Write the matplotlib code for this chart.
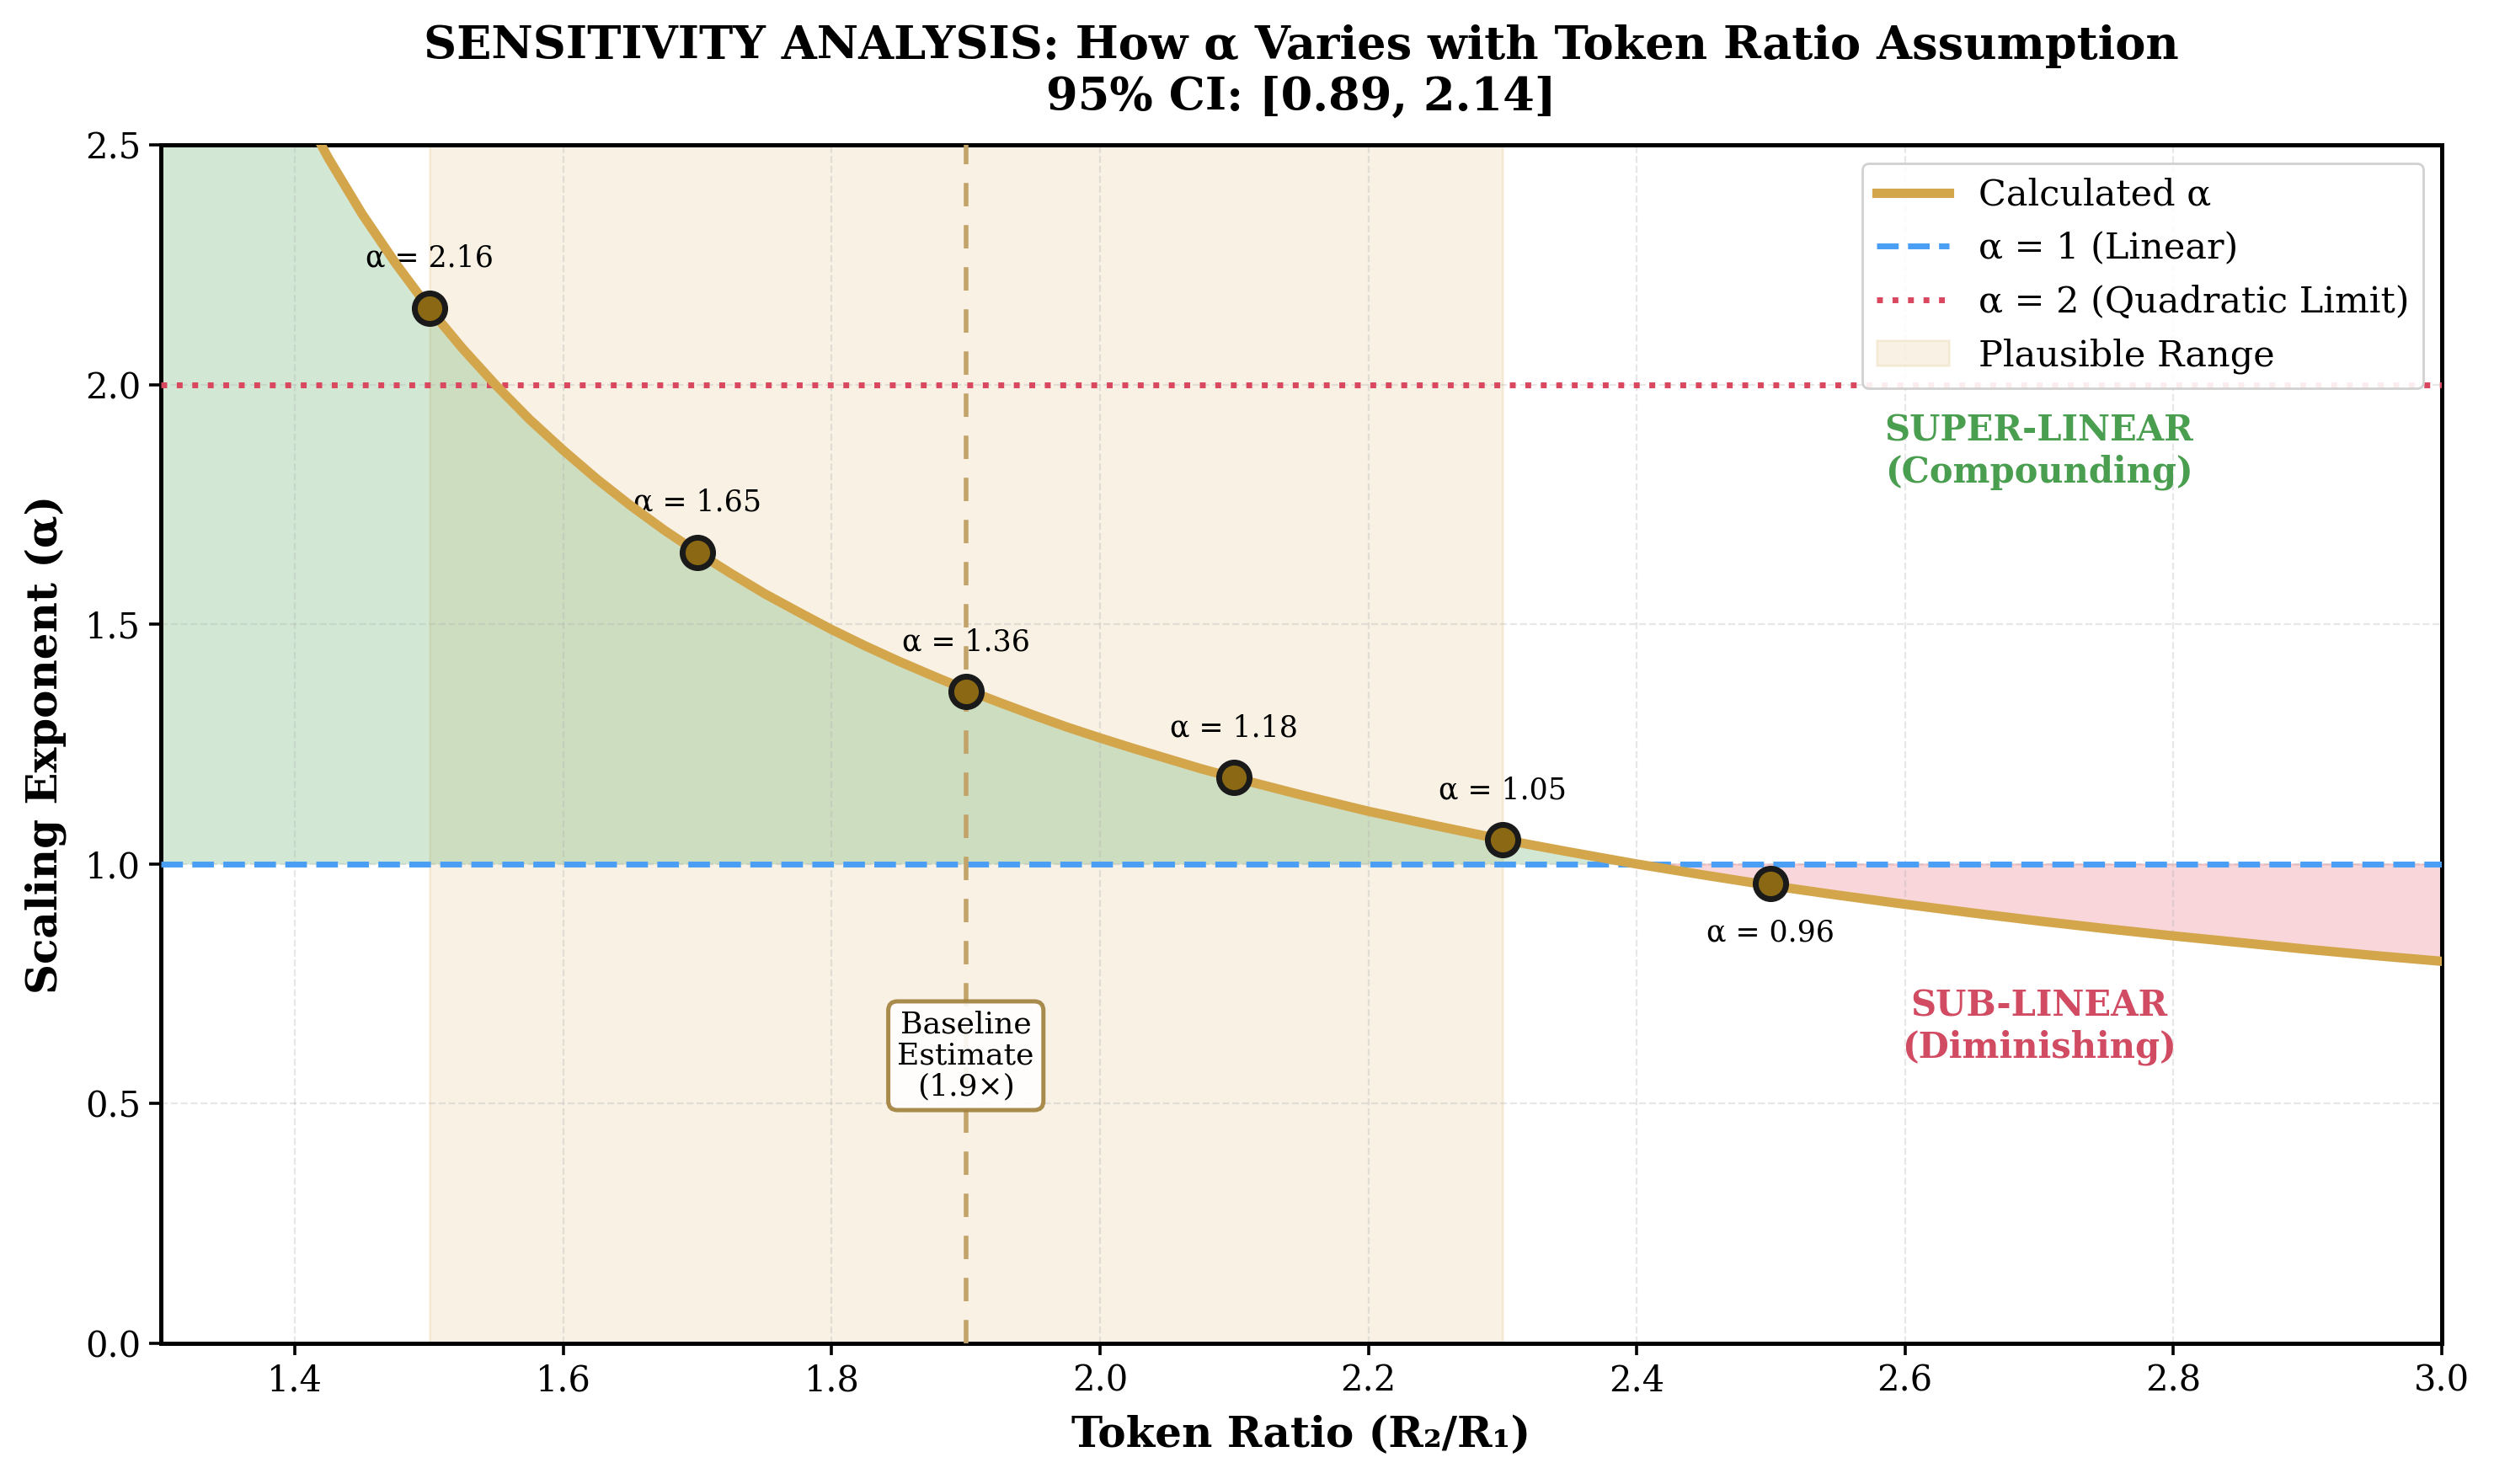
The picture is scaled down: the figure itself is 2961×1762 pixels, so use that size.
import numpy as np
import matplotlib
matplotlib.use("Agg")
import matplotlib.pyplot as plt

plt.rcParams['font.family'] = ['DejaVu Serif']

# curve values (token ratio -> alpha)
ratio_curve = [1.300, 1.325, 1.350, 1.375, 1.400, 1.425, 1.450, 1.475, 1.500, 1.525,
               1.550, 1.575, 1.600, 1.625, 1.650, 1.675, 1.700, 1.725, 1.750, 1.775,
               1.800, 1.825, 1.850, 1.875, 1.900, 1.925, 1.950, 1.975, 2.000, 2.025,
               2.050, 2.075, 2.100, 2.150, 2.200, 2.250, 2.300, 2.350, 2.400, 2.450,
               2.500, 2.550, 2.600, 2.650, 2.700, 2.750, 2.800, 2.850, 2.900, 2.950, 3.000]
alpha_curve = [3.337, 3.111, 2.917, 2.749, 2.602, 2.472, 2.356, 2.253, 2.159, 2.075,
               1.998, 1.927, 1.863, 1.803, 1.748, 1.697, 1.650, 1.606, 1.564, 1.526,
               1.489, 1.455, 1.423, 1.393, 1.364, 1.337, 1.311, 1.286, 1.263, 1.241,
               1.220, 1.199, 1.180, 1.144, 1.110, 1.080, 1.051, 1.025, 1.000, 0.977,
               0.955, 0.935, 0.916, 0.898, 0.881, 0.865, 0.850, 0.836, 0.822, 0.809, 0.797]

# highlighted points
ratio_pts = [1.5, 1.7, 1.9, 2.1, 2.3, 2.5]
alpha_pts = [2.16, 1.65, 1.36, 1.18, 1.05, 0.96]

plaus_lo, plaus_hi = 1.5, 2.3
baseline = 1.9

x = np.array(ratio_curve)
y = np.array(alpha_curve)

fig = plt.figure(figsize=(14.805, 8.81), dpi=200)
ax = fig.add_axes([0.0645, 0.0948, 0.9145, 0.8075])

ax.axvspan(plaus_lo, plaus_hi, color='#D4A24C', alpha=0.15, label='Plausible Range')
ax.fill_between(x, y, 1, where=y >= 1, interpolate=True, color='#3E9E4A', alpha=0.23, lw=0)
ax.fill_between(x, y, 1, where=y <= 1, interpolate=True, color='#DC3545', alpha=0.2, lw=0.8)

ax.plot(x, y, color='#D4A64C', lw=4, label='Calculated α', zorder=4)
ax.axhline(1, color='#4A9FF5', ls='--', lw=2.5, label='α = 1 (Linear)', zorder=3)
ax.axhline(2, color='#D9485F', ls=':', lw=2.5, label='α = 2 (Quadratic Limit)', zorder=3)
ax.axvline(baseline, color='#C2A46A', ls='--', lw=2, dashes=(5, 4), zorder=3)

ax.plot(ratio_pts, alpha_pts, 'o', color='#8B6914', mec='#1a1a1a', mew=2.5, ms=13, zorder=5)
for r, a in zip(ratio_pts, alpha_pts):
    if a >= 1:
        ax.annotate('α = %.2f' % a, (r, a), xytext=(0, 15), textcoords='offset points',
                    ha='center', va='bottom', fontsize=12.5)
    else:
        ax.annotate('α = %.2f' % a, (r, a), xytext=(0, -15), textcoords='offset points',
                    ha='center', va='top', fontsize=12.5)

ax.text(baseline, 0.6, 'Baseline\nEstimate\n(1.9×)', ha='center', va='center', fontsize=13,
        linespacing=1.1,
        bbox=dict(boxstyle='round,pad=0.3', fc='white', ec='#A0803A', lw=1.8, alpha=0.9), zorder=6)

ax.text(2.7, 1.86, 'SUPER-LINEAR\n(Compounding)', ha='center', va='center', fontsize=15,
        fontweight='bold', color='#4A9E4F')
ax.text(2.7, 0.66, 'SUB-LINEAR\n(Diminishing)', ha='center', va='center', fontsize=15,
        fontweight='bold', color='#D14B63')

ax.set_xlim(1.3, 3.0)
ax.set_ylim(0, 2.5)
ax.set_xlabel('Token Ratio (R₂/R₁)', fontsize=18, fontweight='bold', labelpad=7)
ax.set_ylabel('Scaling Exponent (α)', fontsize=18, fontweight='bold', labelpad=8)
ax.set_title('SENSITIVITY ANALYSIS: How α Varies with Token Ratio Assumption\n95% CI: [0.89, 2.14]',
             fontsize=19.5, fontweight='bold', pad=15)
ax.tick_params(labelsize=15, width=1.3, length=5)
ax.grid(True, ls='--', alpha=0.3)
for s in ax.spines.values():
    s.set_linewidth(1.8)

h, l = ax.get_legend_handles_labels()
order = [l.index('Calculated α'), l.index('α = 1 (Linear)'),
         l.index('α = 2 (Quadratic Limit)'), l.index('Plausible Range')]
ax.legend([h[i] for i in order], [l[i] for i in order], loc='upper right', fontsize=15.5,
          framealpha=0.9)

fig.savefig('out.png', dpi=200)
